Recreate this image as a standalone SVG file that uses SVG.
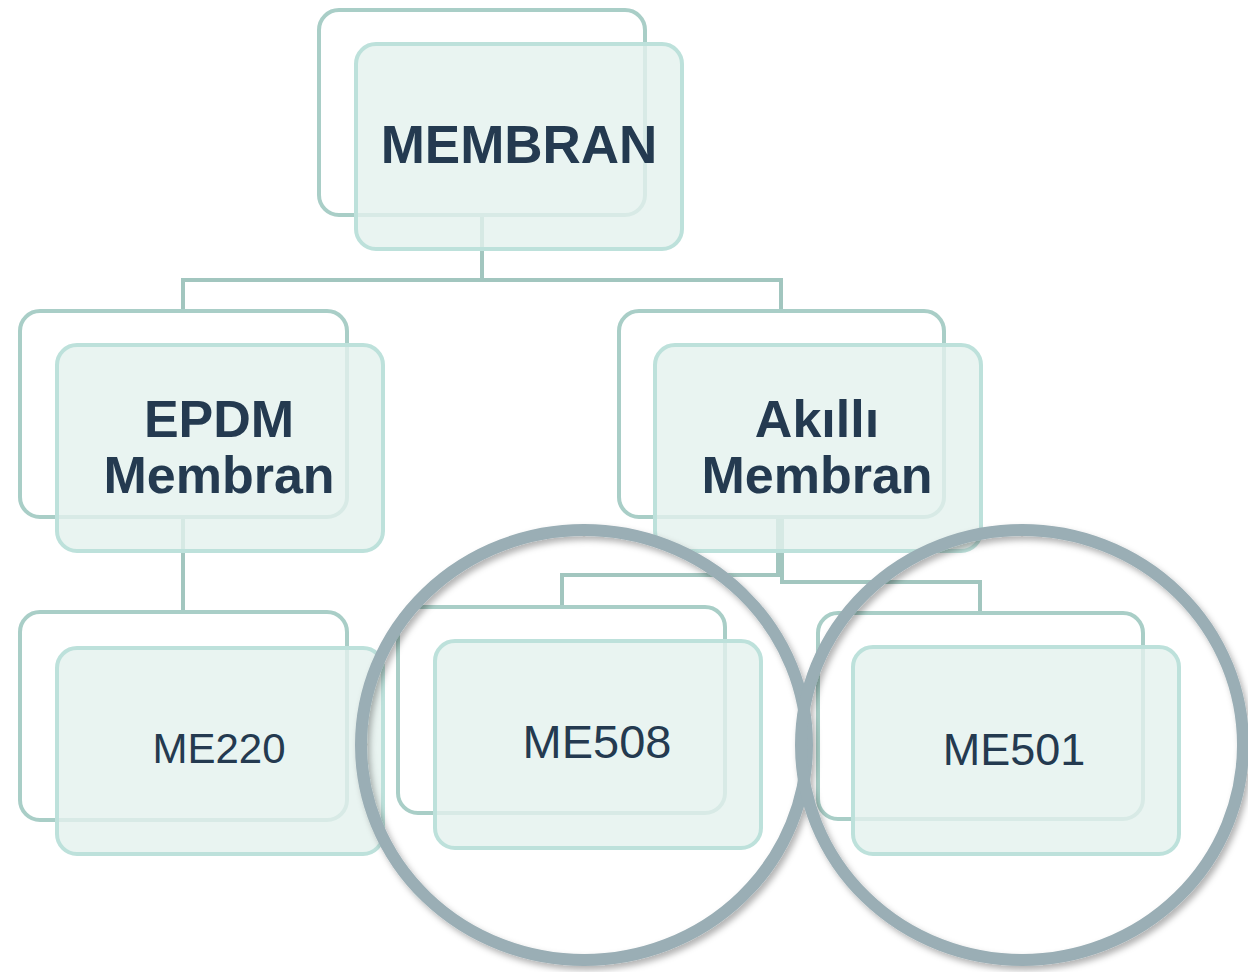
<svg xmlns="http://www.w3.org/2000/svg" width="1248" height="972" viewBox="0 0 1248 972">
<defs>
<style>
.back{fill:none;stroke:#a9cec7;stroke-width:4}
.front{fill:#e4f1ed;fill-opacity:0.8;stroke:#bde1db;stroke-width:4}
.conn{fill:none;stroke:#a2c6bf;stroke-width:4}
.tb{font-family:"Liberation Sans",Arial,sans-serif;font-weight:bold;fill:#243a50;text-anchor:middle}
.tr{font-family:"Liberation Sans",Arial,sans-serif;fill:#243a50;text-anchor:middle}
.ring{fill:none;stroke:#9aaeb5;stroke-width:12}
</style>
<filter id="sh" x="-10%" y="-10%" width="120%" height="120%">
<feDropShadow dx="3" dy="4" stdDeviation="3" flood-color="#000" flood-opacity="0.3"/>
</filter>
</defs>
<rect width="1248" height="972" fill="#ffffff"/>
<g id="connectors">
<path class="conn" d="M482 215V280M183 311V280H781V311"/>
<path class="conn" d="M183 517V612"/>
<path class="conn" d="M778 517V575H562V607"/>
<path class="conn" d="M782 517V582H980V613"/>
</g>
<g id="node-membran">
<rect class="back" x="319" y="10" width="326" height="205" rx="20"/>
<rect class="front" x="356" y="44" width="326" height="205" rx="20"/>
<text class="tb" x="519" y="163" font-size="53">MEMBRAN</text>
</g>
<g id="node-epdm">
<rect class="back" x="20" y="311" width="327" height="206" rx="20"/>
<rect class="front" x="57" y="345" width="326" height="206" rx="20"/>
<text class="tb" x="219" y="437" font-size="52">EPDM</text>
<text class="tb" x="219" y="493" font-size="52">Membran</text>
</g>
<g id="node-akilli">
<rect class="back" x="619" y="311" width="325" height="206" rx="20"/>
<rect class="front" x="655" y="345" width="326" height="206" rx="20"/>
<text class="tb" x="817" y="437" font-size="52">Akıllı</text>
<text class="tb" x="817" y="493" font-size="52">Membran</text>
</g>
<g id="node-me220">
<rect class="back" x="20" y="612" width="327" height="208" rx="20"/>
<rect class="front" x="57" y="648" width="326" height="206" rx="20"/>
<text class="tr" x="219" y="763" font-size="42">ME220</text>
</g>
<g id="node-me508">
<rect class="back" x="398" y="607" width="327" height="206" rx="20"/>
<rect class="front" x="435" y="641" width="326" height="207" rx="20"/>
<text class="tr" x="597" y="758" font-size="47">ME508</text>
</g>
<g id="node-me501">
<rect class="back" x="818" y="613" width="325" height="206" rx="20"/>
<rect class="front" x="853" y="647" width="326" height="207" rx="20"/>
<text class="tr" x="1014" y="765" font-size="45">ME501</text>
</g>
<g id="highlight-rings" filter="url(#sh)">
<ellipse class="ring" cx="584" cy="745" rx="223" ry="215"/>
<ellipse class="ring" cx="1022" cy="745" rx="221" ry="215"/>
</g>
</svg>
